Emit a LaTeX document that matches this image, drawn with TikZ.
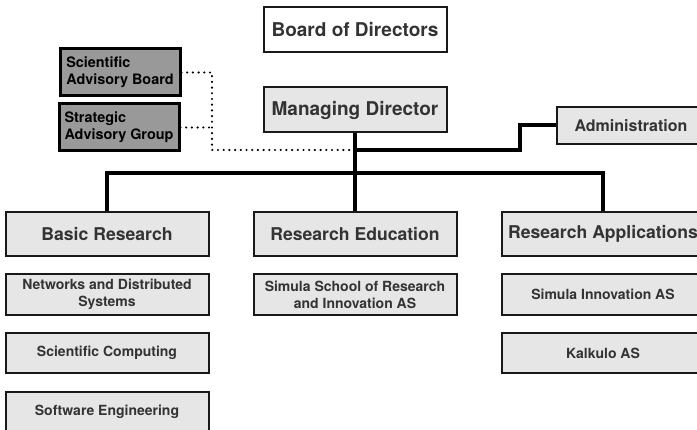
\documentclass[tikz,border=0pt]{standalone}
\usepackage{fontspec}
\setmainfont{TeX Gyre Heros}
\usetikzlibrary{positioning}

\definecolor{boxfill}{HTML}{E6E6E6}
\definecolor{advfill}{HTML}{999999}
\definecolor{boxtext}{HTML}{333333}

\tikzset{
  unit/.style={draw=black!90, line width=2pt, fill=boxfill, text=boxtext,
    font=\bfseries\fontsize{17.6}{20}\selectfont, inner sep=0pt,
    minimum width=203pt, minimum height=44pt},
  top/.style={unit, font=\bfseries\fontsize{19}{22}\selectfont,
    minimum width=183pt, minimum height=45pt},
  sub/.style={unit, font=\bfseries\fontsize{14}{16.8}\selectfont,
    align=center, minimum height=41pt},
  advisory/.style={draw=black, line width=3pt, fill=advfill, text=black,
    font=\bfseries\fontsize{14.4}{17.3}\selectfont, align=left,
    inner sep=0pt, minimum width=120pt, minimum height=47pt},
  link/.style={line width=4pt},
  advice/.style={line width=2.4pt, line cap=round, dash pattern=on 0pt off 5.7pt}
}

\begin{document}
\begin{tikzpicture}[x=1pt, y=-1pt]
\useasboundingbox (0,0) rectangle (697,430);

%top of the tree
\node[top, fill=white] (board) at (355,30) {Board of Directors};
\node[top] (md) at (355,110) {Managing Director};
\node[unit, font=\bfseries\fontsize{16}{19}\selectfont,
  minimum width=148pt, minimum height=37pt] (admin) at (631,125.5) {Administration};

%advisory bodies
\node[advisory] (sab) at (120,72.5) {Scientific\\Advisory Board};
\node[advisory] (sag) at (119,127.5) {Strategic\\Advisory Group};

%departments
\node[unit] (basic) at (107,234) {Basic Research};
\node[unit] (educ) at (355,234) {Research Education};
\node[unit] (appl) at (603,234) {Research Applications};

%units below each department
\node[sub] (nds) at (107,294.5) {Networks and Distributed\\Systems};
\node[sub, minimum height=40pt] (sci) at (107,353) {Scientific Computing};
\node[sub, minimum height=40pt] (soft) at (107,412) {Software Engineering};
\node[sub] (school) at (355,294.5) {Simula School of Research\\and Innovation AS};
\node[sub] (innov) at (603,294.5) {Simula Innovation AS};
\node[sub, minimum height=40pt] (kalk) at (603,353) {Kalkulo AS};

%connectors
\coordinate (adm) at (355,150);
\coordinate (knee) at (520,150);
\coordinate (bar) at (355,173);
\coordinate (dots) at (212,150);
\draw[link] (md.south) -- (educ.north);
\draw[link] (basic.north) |- (bar) -| (appl.north);
\draw[link] (adm) -- (knee) |- (admin.west);
\draw[advice] (sab.east) -| (dots) -- (adm);
\draw[advice] (sag.east) -- (sag.east -| dots);
\end{tikzpicture}
\end{document}
